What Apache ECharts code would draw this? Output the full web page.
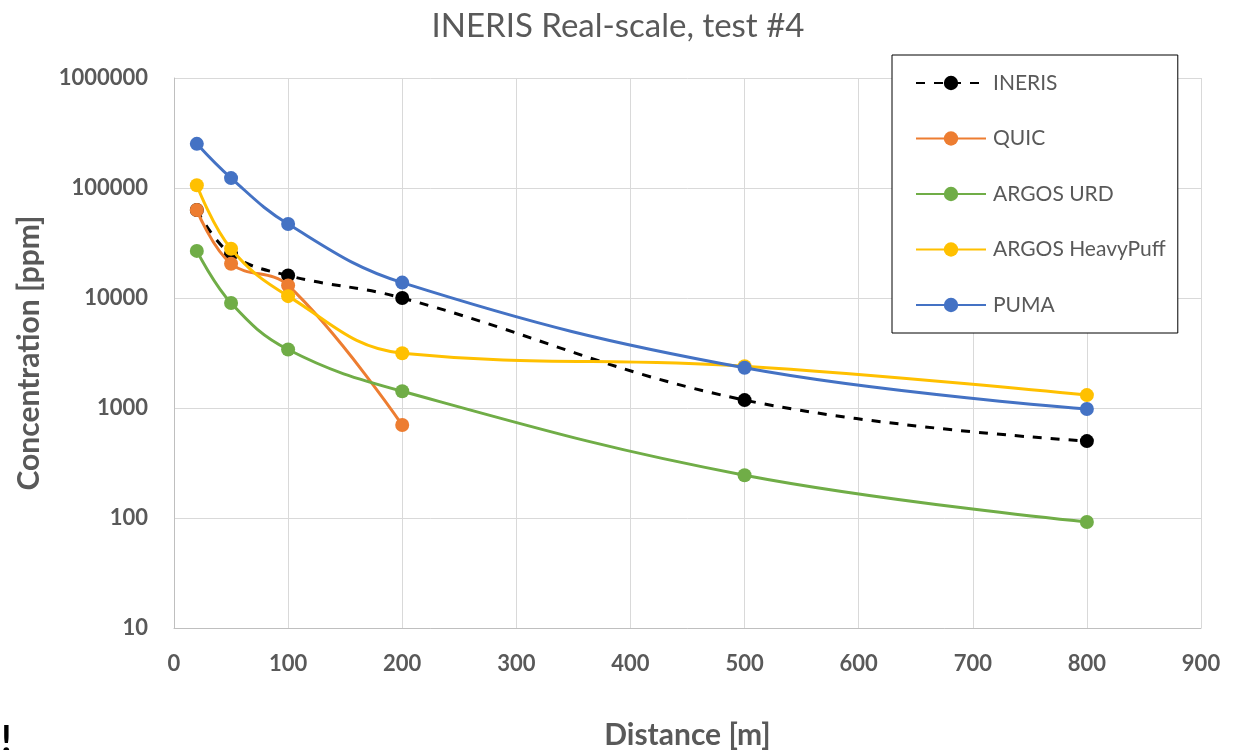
<!DOCTYPE html>
<html>
<head>
<meta charset="utf-8">
<script src="https://cdn.jsdelivr.net/npm/echarts@6/dist/echarts.min.js"></script>
<style>html,body{margin:0;padding:0;background:#fff}#c{width:1236px;height:750px}</style>
</head>
<body>
<div id="c"></div>
<script>
const distances = [20, 50, 100, 200, 500, 800];
const ineris = [63000, 25000, 16000, 10000, 1180, 500];
const quic = [63000, 20500, 13000, 700];
const argosUrd = [26800, 9000, 3400, 1420, 245, 92];
const argosHeavyPuff = [106000, 28000, 10400, 3150, 2400, 1310];
const puma = [252000, 123000, 47000, 13800, 2320, 980];
const seriesNames = ['INERIS', 'QUIC', 'ARGOS URD', 'ARGOS HeavyPuff', 'PUMA'];
const seriesColors = ['#000000', '#ED7D31', '#70AD47', '#FFC000', '#4472C4'];
const xTicks = [0, 100, 200, 300, 400, 500, 600, 700, 800, 900];

const FONT = 'Lato, "Open Sans", sans-serif';
const allData = [ineris, quic, argosUrd, argosHeavyPuff, puma];

const series = allData.map((vals, i) => ({
  name: seriesNames[i],
  type: 'line',
  data: vals.map((v, j) => [distances[j], v]),
  smooth: 0.4,
  symbol: 'circle',
  symbolSize: 14,
  showSymbol: true,
  lineStyle: { width: 3, color: seriesColors[i], type: i === 0 ? [9, 9] : 'solid' },
  itemStyle: { color: seriesColors[i] },
  emphasis: { disabled: true },
  z: 2 + i
}));

const chart = echarts.init(document.getElementById('c'), null, { renderer: 'canvas' });
chart.setOption({
  animation: false,
  backgroundColor: '#ffffff',
  title: {
    text: 'INERIS Real-scale, test #4',
    left: 'center',
    top: 5,
    textStyle: { fontFamily: FONT, fontSize: 33, fontWeight: 'normal', color: '#595959' }
  },
  legend: {
    orient: 'vertical',
    left: 892,
    top: 55,
    padding: [17, 12, 17, 23],
    itemGap: 33.5,
    itemWidth: 70,
    itemHeight: 18,
    backgroundColor: '#ffffff',
    borderColor: '#000000',
    borderWidth: 1,
    borderRadius: 0,
    data: seriesNames,
    textStyle: { fontFamily: FONT, fontSize: 21, lineHeight: 22, color: '#595959', padding: [0, 0, 0, 2] }
  },
  grid: { left: 174, right: 35, top: 78, bottom: 122, containLabel: false, outerBoundsMode: 'none' },
  xAxis: {
    type: 'value',
    min: xTicks[0],
    max: xTicks[xTicks.length - 1],
    interval: 100,
    name: 'Distance [m]',
    nameLocation: 'middle',
    nameGap: 92,
    nameTextStyle: { fontFamily: FONT, fontSize: 30, fontWeight: 'bold', color: '#595959' },
    axisLine: { show: true, lineStyle: { color: '#bfbfbf', width: 1 } },
    axisTick: { show: false },
    axisLabel: { fontFamily: FONT, fontSize: 22, fontWeight: 'bold', color: '#595959', margin: 25 },
    splitLine: { show: true, lineStyle: { color: '#d9d9d9', width: 1 } }
  },
  yAxis: {
    type: 'log',
    logBase: 10,
    min: 10,
    max: 1000000,
    name: 'Concentration [ppm]',
    nameLocation: 'middle',
    nameGap: 130,
    nameRotate: 90,
    nameTextStyle: { fontFamily: FONT, fontSize: 30, fontWeight: 'bold', color: '#595959' },
    axisLine: { show: true, lineStyle: { color: '#bfbfbf', width: 1 } },
    axisTick: { show: false },
    axisLabel: {
      fontFamily: FONT, fontSize: 22, fontWeight: 'bold', color: '#595959', margin: 26,
      formatter: v => String(Math.round(v))
    },
    splitLine: { show: true, lineStyle: { color: '#d9d9d9', width: 1 } }
  },
  graphic: [{
    type: 'text', left: 1, top: 722,
    style: { text: '!', fontFamily: FONT, fontSize: 38, fontWeight: 'bold', fill: '#000000' }
  }],
  series: series
});
</script>
</body>
</html>
